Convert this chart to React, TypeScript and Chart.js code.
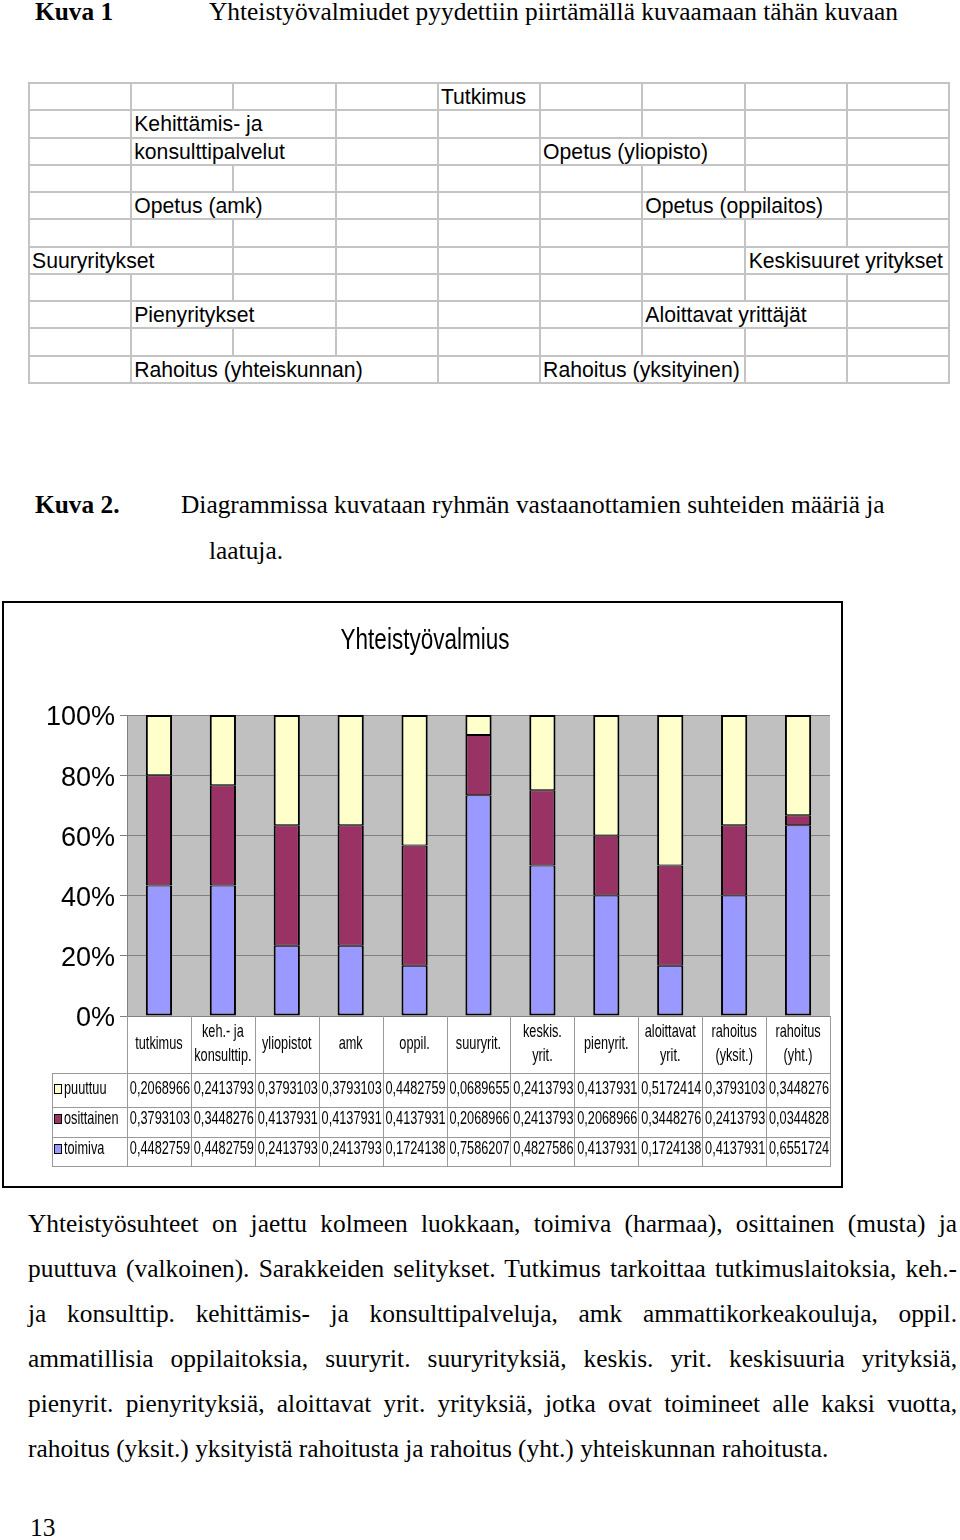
import React, { useEffect, useRef } from "react";
import { Chart, registerables } from "chart.js";

Chart.register(...registerables);

// ---------- data ----------
const categories: string[][] = [
  ["tutkimus"],
  ["keh.- ja", "konsulttip."],
  ["yliopistot"],
  ["amk"],
  ["oppil."],
  ["suuryrit."],
  ["keskis.", "yrit."],
  ["pienyrit."],
  ["aloittavat", "yrit."],
  ["rahoitus", "(yksit.)"],
  ["rahoitus", "(yht.)"],
];
const puuttuu = [0.2068966, 0.2413793, 0.3793103, 0.3793103, 0.4482759, 0.0689655, 0.2413793, 0.4137931, 0.5172414, 0.3793103, 0.3448276];
const osittainen = [0.3793103, 0.3448276, 0.4137931, 0.4137931, 0.4137931, 0.2068966, 0.2413793, 0.2068966, 0.3448276, 0.2413793, 0.0344828];
const toimiva = [0.4482759, 0.4482759, 0.2413793, 0.2413793, 0.1724138, 0.7586207, 0.4827586, 0.4137931, 0.1724138, 0.4137931, 0.6551724];
const seriesNames = ["puuttuu", "osittainen", "toimiva"];
const seriesColors = ["#FFFFCC", "#993366", "#9999FF"];
const yTickStep = 20;
const chartTitle = "Yhteistyövalmius";

// Kuva 1 grid (row, col, span, text, align)
const gridCells: [number, number, number, string, string][] = [
  [0, 4, 1, "Tutkimus", "left"],
  [1, 1, 2, "Kehittämis- ja", "left"],
  [2, 1, 2, "konsulttipalvelut", "left"],
  [2, 5, 2, "Opetus (yliopisto)", "left"],
  [4, 1, 2, "Opetus (amk)", "left"],
  [4, 6, 2, "Opetus (oppilaitos)", "left"],
  [6, 0, 2, "Suuryritykset", "left"],
  [6, 7, 2, "Keskisuuret yritykset", "right"],
  [8, 1, 2, "Pienyritykset", "left"],
  [8, 6, 2, "Aloittavat yrittäjät", "left"],
  [10, 1, 3, "Rahoitus (yhteiskunnan)", "left"],
  [10, 5, 2, "Rahoitus (yksityinen)", "left"],
];

const paragraphLines = [
  "Yhteistyösuhteet on jaettu kolmeen luokkaan, toimiva (harmaa), osittainen (musta) ja",
  "puuttuva (valkoinen). Sarakkeiden selitykset. Tutkimus tarkoittaa tutkimuslaitoksia, keh.-",
  "ja konsulttip. kehittämis- ja konsulttipalveluja, amk ammattikorkeakouluja, oppil.",
  "ammatillisia oppilaitoksia, suuryrit. suuryrityksiä, keskis. yrit. keskisuuria yrityksiä,",
  "pienyrit. pienyrityksiä, aloittavat yrit. yrityksiä, jotka ovat toimineet alle kaksi vuotta,",
  "rahoitus (yksit.) yksityistä rahoitusta ja rahoitus (yht.) yhteiskunnan rahoitusta.",
];

const SANS = '"Liberation Sans", Arial, sans-serif';
const SERIF = '"Liberation Serif", "Times New Roman", serif';
const SERIF_SIZE = 25.4;

function sText(ctx: CanvasRenderingContext2D, text: string, x: number, y: number, align: CanvasTextAlign, size: number, sx: number) {
  ctx.save();
  ctx.font = `${size}px ${SANS}`;
  ctx.fillStyle = "#000";
  ctx.textBaseline = "alphabetic";
  ctx.textAlign = align;
  ctx.translate(x, y);
  ctx.scale(sx, 1);
  ctx.fillText(text, 0, 0);
  ctx.restore();
}

const pagePlugin = {
  id: "pagePlugin",
  beforeDraw(chart: any) {
    const { ctx, chartArea: a } = chart;
    ctx.save();
    ctx.fillStyle = "#fff";
    ctx.fillRect(0, 0, chart.width, chart.height);
    ctx.fillStyle = "#C0C0C0";
    ctx.fillRect(a.left, a.top, a.right - a.left, a.bottom - a.top);
    ctx.restore();
  },
  afterDraw(chart: any) {
    const { ctx, chartArea: a } = chart;
    const xs = chart.scales.x;
    const n = categories.length;
    const cw = (xs.right - xs.left) / n;
    const top = a.bottom;
    const rows = [top, top + 57, top + 91, top + 121, top + 150];
    const legendLeft = 52;

    // title
    sText(ctx, chartTitle, 425, 49, "center", 30, 0.75);

    // table lines
    ctx.save();
    ctx.strokeStyle = "#9a9a9a";
    ctx.lineWidth = 1;
    ctx.beginPath();
    for (let i = 0; i <= n; i++) {
      const x = Math.round(xs.left + i * cw) + 0.5;
      ctx.moveTo(x, top);
      ctx.lineTo(x, rows[4]);
    }
    for (let r = 1; r <= 4; r++) {
      const y = rows[r] + 0.5;
      ctx.moveTo(legendLeft, y);
      ctx.lineTo(Math.round(xs.right) + 1, y);
    }
    ctx.moveTo(legendLeft + 0.5, rows[1]);
    ctx.lineTo(legendLeft + 0.5, rows[4]);
    ctx.stroke();
    ctx.restore();

    const sx = 0.67;
    const fs = 19;
    // category labels
    categories.forEach((lines, i) => {
      const cx = xs.getPixelForValue(i);
      if (lines.length === 1) {
        sText(ctx, lines[0], cx, top + 33, "center", fs, sx);
      } else {
        sText(ctx, lines[0], cx, top + 21, "center", fs, sx);
        sText(ctx, lines[1], cx, top + 45, "center", fs, sx);
      }
    });

    // value rows
    const rowData = [puuttuu, osittainen, toimiva];
    const baselines = [top + 78, top + 108, top + 138];
    rowData.forEach((arr, r) => {
      const by = baselines[r];
      ctx.save();
      ctx.fillStyle = seriesColors[r];
      ctx.fillRect(54, by - 10, 8, 10);
      ctx.strokeStyle = "#000";
      ctx.lineWidth = 1;
      ctx.strokeRect(54.5, by - 9.5, 7, 9);
      ctx.restore();
      sText(ctx, seriesNames[r], 64, by, "left", fs, sx);
      arr.forEach((v, i) => {
        const cx = xs.getPixelForValue(i);
        sText(ctx, v.toFixed(7).replace(".", ","), cx + 1, by, "center", fs, sx);
      });
    });

    // frame
    ctx.save();
    ctx.strokeStyle = "#000";
    ctx.lineWidth = 2;
    ctx.strokeRect(3, 2, 839, 585);
    ctx.restore();
  },
};

function ChartBox() {
  const ref = useRef<HTMLCanvasElement>(null);
  useEffect(() => {
    if (!ref.current) return;
    const totals = toimiva.map((t, i) => t + osittainen[i] + puuttuu[i]);
    const pct = (arr: number[]) => arr.map((v, i) => (v / totals[i]) * 100);
    const chart = new Chart(ref.current, {
      type: "bar",
      data: {
        labels: categories.map((c) => c.join(" ")),
        datasets: [
          {
            label: seriesNames[2],
            data: pct(toimiva),
            backgroundColor: seriesColors[2],
            borderColor: "#000",
            borderWidth: { top: 1, bottom: 2, left: 2, right: 2 },
            borderSkipped: false,
          },
          {
            label: seriesNames[1],
            data: pct(osittainen),
            backgroundColor: seriesColors[1],
            borderColor: "#000",
            borderWidth: { top: 1, bottom: 1, left: 2, right: 2 },
            borderSkipped: false,
          },
          {
            label: seriesNames[0],
            data: pct(puuttuu),
            backgroundColor: seriesColors[0],
            borderColor: "#000",
            borderWidth: { top: 2, bottom: 1, left: 2, right: 2 },
            borderSkipped: false,
          },
        ] as any,
      },
      options: {
        responsive: false,
        animation: false,
        devicePixelRatio: 1,
        layout: { padding: { top: 115, bottom: 174, left: 0, right: 16 } },
        plugins: { legend: { display: false }, tooltip: { enabled: false }, title: { display: false } },
        datasets: { bar: { barPercentage: 0.41, categoryPercentage: 1 } },
        scales: {
          x: { stacked: true, display: false },
          y: {
            stacked: true,
            min: 0,
            max: 100,
            afterFit: (s: any) => {
              s.width = 127;
            },
            ticks: {
              stepSize: yTickStep,
              callback: (v: any) => v + "%",
              color: "#000",
              font: { family: SANS, size: 27 },
              padding: 5,
              labelOffset: 3,
            },
            grid: { color: "#808080", lineWidth: 1, tickLength: 7, drawTicks: true },
            border: { display: true, color: "#808080", width: 1 },
          },
        },
      } as any,
      plugins: [pagePlugin],
    });
    return () => chart.destroy();
  }, []);
  return (
    <div style={{ position: "absolute", left: 0, top: 600, width: 846, height: 590 }}>
      <canvas ref={ref} width={846} height={590} style={{ width: 846, height: 590, display: "block" }} />
    </div>
  );
}

function ST({ x, base, size, bold, children }: any) {
  return (
    <div
      style={{
        position: "absolute",
        left: x,
        top: base - 0.8375 * size,
        fontFamily: SERIF,
        fontSize: size,
        lineHeight: `${size}px`,
        fontWeight: bold ? "bold" : "normal",
        whiteSpace: "nowrap",
        color: "#000",
      }}
    >
      {children}
    </div>
  );
}

function GridTable() {
  const L = 28;
  const T = 83;
  const cw = 102.22;
  const rh = 27.27;
  const nCols = 9;
  const nRows = 11;
  const lineColor = "#c4c4c4";
  const els: any[] = [];
  for (let r = 0; r <= nRows; r++) {
    els.push(
      <div key={"h" + r} style={{ position: "absolute", left: L, top: T + r * rh - 1, width: nCols * cw + 2, height: 2, background: lineColor }} />
    );
  }
  for (let r = 0; r < nRows; r++) {
    const hidden = new Set<number>();
    gridCells.filter((c) => c[0] === r).forEach((c) => {
      for (let k = 1; k < c[2]; k++) hidden.add(c[1] + k);
    });
    for (let b = 0; b <= nCols; b++) {
      if (hidden.has(b)) continue;
      els.push(
        <div key={"v" + r + "_" + b} style={{ position: "absolute", left: L + b * cw, top: T + r * rh, width: 2, height: rh, background: lineColor }} />
      );
    }
  }
  gridCells.forEach((c, i) => {
    const [r, col, span, text, align] = c;
    const left = L + col * cw + 4;
    const width = span * cw - 9;
    els.push(
      <div
        key={"t" + i}
        style={{
          position: "absolute",
          left,
          top: T + r * rh,
          width,
          height: rh,
          display: "flex",
          alignItems: "center",
          justifyContent: align === "right" ? "flex-end" : "flex-start",
          fontFamily: SANS,
          fontSize: 21.2,
          lineHeight: "21px",
          whiteSpace: "nowrap",
          color: "#000",
        }}
      >
        {text}
      </div>
    );
  });
  return <>{els}</>;
}

export default function App() {
  const S = SERIF_SIZE;
  return (
    <div style={{ position: "absolute", left: 0, top: 0, width: 960, height: 1540, background: "#fff", overflow: "hidden" }}>
      <ST x={35} base={20.7} size={S} bold>Kuva 1</ST>
      <ST x={209} base={20.7} size={S}>Yhteistyövalmiudet pyydettiin piirtämällä kuvaamaan tähän kuvaan</ST>
      <GridTable />
      <ST x={35} base={513.3} size={S} bold>Kuva 2.</ST>
      <ST x={181} base={513.3} size={S}>Diagrammissa kuvataan ryhmän vastaanottamien suhteiden määriä ja</ST>
      <ST x={209} base={559.3} size={S}>laatuja.</ST>
      <ChartBox />
      {paragraphLines.map((line, i) => {
        const last = i === paragraphLines.length - 1;
        return (
          <div
            key={i}
            style={{
              position: "absolute",
              left: 28,
              top: 1232.3 + i * 45 - 0.8375 * S,
              width: 929,
              fontFamily: SERIF,
              fontSize: S,
              lineHeight: `${S}px`,
              whiteSpace: "nowrap",
              textAlign: last ? "left" : "justify",
              textAlignLast: last ? "left" : "justify",
              color: "#000",
            } as any}
          >
            {line}
          </div>
        );
      })}
      <ST x={30} base={1536} size={S}>13</ST>
    </div>
  );
}
